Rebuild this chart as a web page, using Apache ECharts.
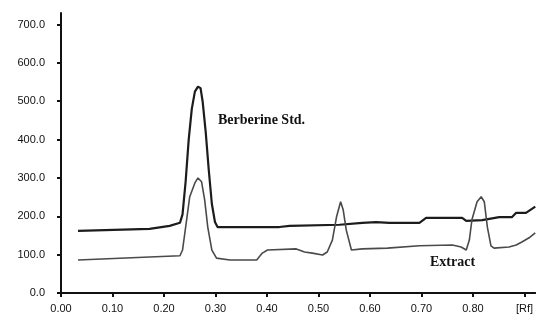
<!DOCTYPE html>
<html>
<head>
<meta charset="utf-8">
<script src="https://cdn.jsdelivr.net/npm/echarts@6/dist/echarts.min.js"></script>
<style>
  html, body { margin: 0; padding: 0; background: #fff; }
  #chart { width: 536px; height: 324px; }
</style>
</head>
<body>
<div id="chart"></div>
<script>
// tick values and labels
const yTicks = [0, 100, 200, 300, 400, 500, 600, 700];
const xTicks = [0, 0.1, 0.2, 0.3, 0.4, 0.5, 0.6, 0.7, 0.8, 0.9];
const xTickLabels = ['0.00', '0.10', '0.20', '0.30', '0.40', '0.50', '0.60', '0.70', '0.80', '[Rf]'];

// Berberine standard trace: [Rf, response]
const stdRf = [0.033, 0.172, 0.211, 0.231, 0.236, 0.242, 0.248, 0.254, 0.260, 0.266, 0.271, 0.275, 0.281, 0.287, 0.293, 0.299, 0.304, 0.424, 0.444, 0.541, 0.585, 0.612, 0.638, 0.696, 0.709, 0.779, 0.787, 0.818, 0.851, 0.876, 0.884, 0.903, 0.921];
const stdVal = [162, 167, 175, 183, 205, 290, 400, 480, 525, 538, 534, 500, 420, 320, 232, 185, 172, 172, 175, 178, 183, 185, 183, 183, 196, 196, 188, 190, 198, 198, 209, 209, 225];

// extract trace
const extRf = [0.033, 0.172, 0.231, 0.236, 0.244, 0.250, 0.260, 0.266, 0.273, 0.279, 0.285, 0.293, 0.302, 0.328, 0.380, 0.391, 0.401, 0.457, 0.473, 0.488, 0.508, 0.517, 0.527, 0.535, 0.543, 0.548, 0.554, 0.564, 0.585, 0.634, 0.696, 0.760, 0.777, 0.787, 0.793, 0.798, 0.808, 0.816, 0.822, 0.828, 0.835, 0.841, 0.870, 0.884, 0.895, 0.909, 0.921];
const extVal = [86, 94, 97, 112, 191, 251, 287, 300, 290, 243, 172, 112, 91, 86, 86, 104, 112, 115, 107, 104, 99, 107, 138, 198, 238, 217, 164, 112, 115, 117, 123, 125, 120, 112, 138, 191, 238, 251, 238, 172, 123, 117, 120, 125, 133, 144, 157];

const zip = (a, b) => a.map((v, i) => [v, b[i]]);

const chart = echarts.init(document.getElementById('chart'));

const labelFont = { fontFamily: 'Liberation Sans, Arial, sans-serif', fontSize: 11, color: '#111' };

chart.setOption({
  animation: false,
  grid: { left: 61, right: 0, top: 13, bottom: 31 },
  xAxis: {
    type: 'value',
    min: 0,
    max: 0.921,
    axisLine: { show: true, lineStyle: { color: '#111', width: 2 } },
    axisTick: { show: true, length: 4, customValues: xTicks, lineStyle: { color: '#111', width: 2 } },
    axisLabel: Object.assign({
      customValues: xTicks,
      margin: 10,
      formatter: v => xTickLabels[Math.round(v * 10)]
    }, labelFont),
    splitLine: { show: false }
  },
  yAxis: {
    type: 'value',
    min: 0,
    max: 730,
    axisLine: { show: true, lineStyle: { color: '#111', width: 2 } },
    axisTick: { show: true, length: 4, customValues: yTicks, lineStyle: { color: '#111', width: 2 } },
    axisLabel: Object.assign({
      customValues: yTicks,
      margin: 16,
      formatter: v => v.toFixed(1)
    }, labelFont),
    splitLine: { show: false }
  },
  series: [
    {
      name: 'Berberine Std.',
      type: 'line',
      data: zip(stdRf, stdVal),
      symbol: 'none',
      lineStyle: { color: '#1c1c1c', width: 2.2 }
    },
    {
      name: 'Extract',
      type: 'line',
      data: zip(extRf, extVal),
      symbol: 'none',
      lineStyle: { color: '#4a4a4a', width: 1.6 }
    }
  ],
  graphic: [
    {
      type: 'text', left: 218, top: 113,
      style: { text: 'Berberine Std.', font: 'bold 14px "Liberation Serif", serif', fill: '#111' }
    },
    {
      type: 'text', left: 430, top: 255,
      style: { text: 'Extract', font: 'bold 14px "Liberation Serif", serif', fill: '#111' }
    }
  ]
});
</script>
</body>
</html>
